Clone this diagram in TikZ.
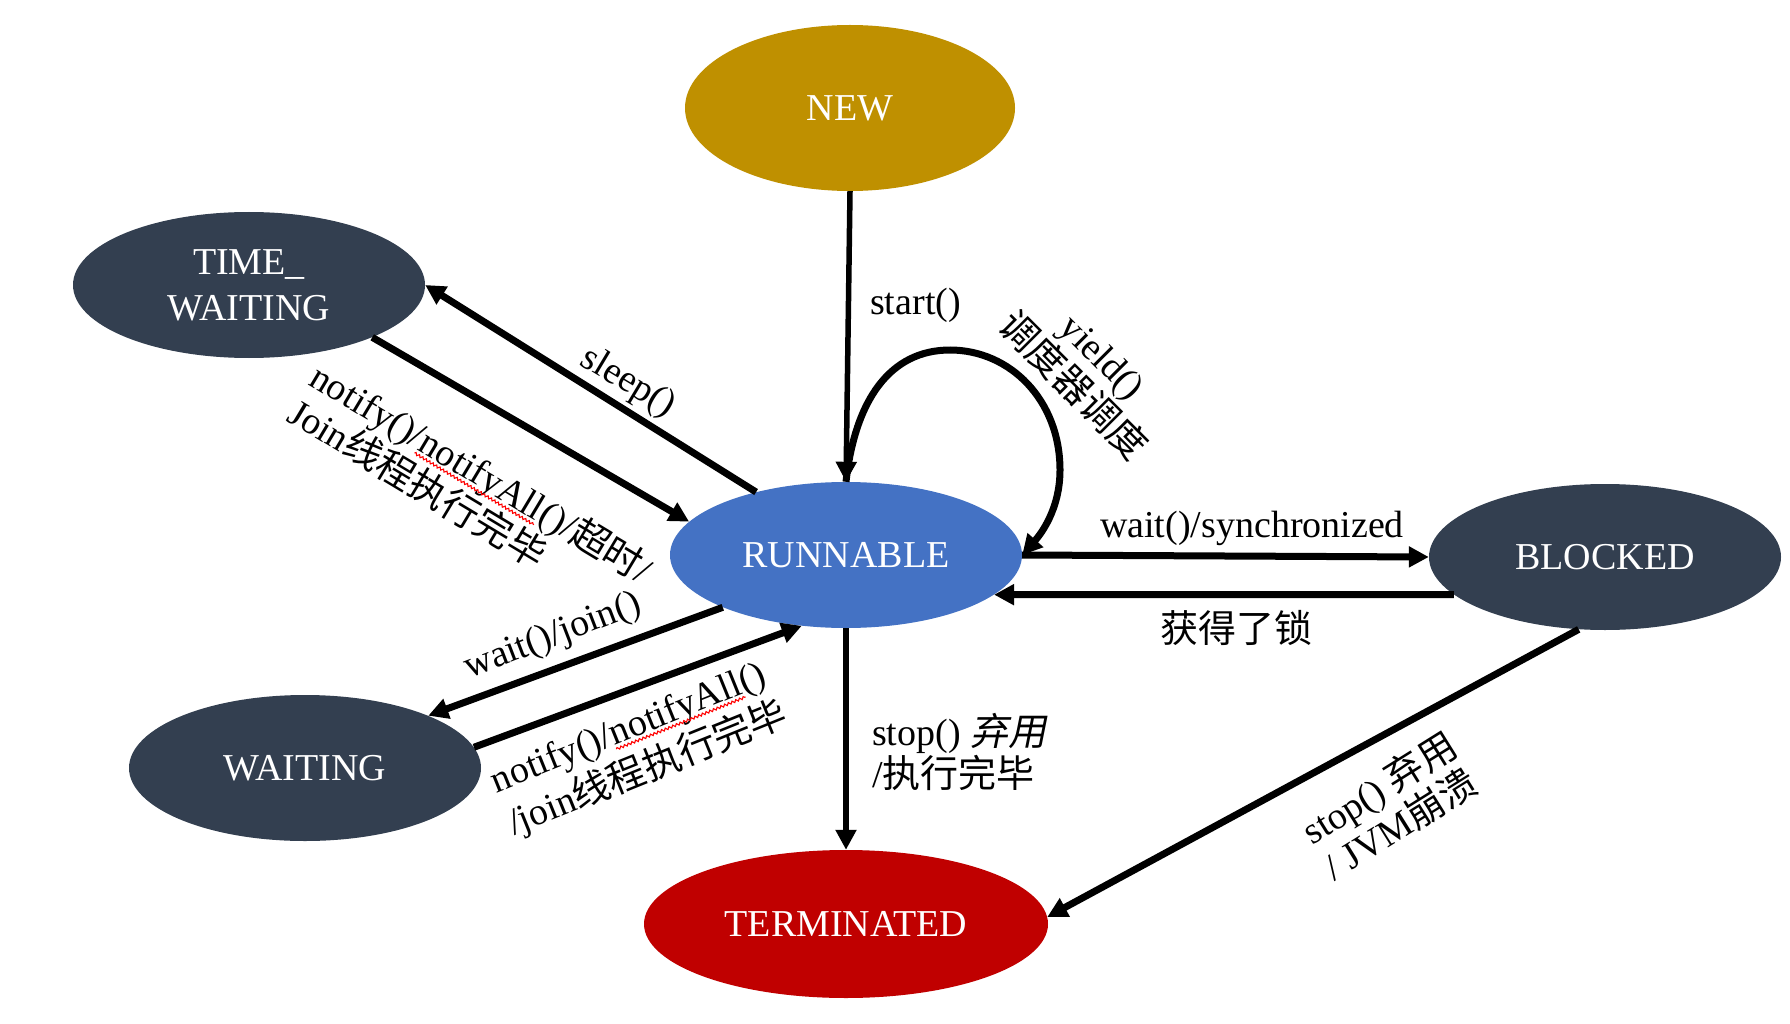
\documentclass[tikz,border=0pt]{standalone}
\usepackage{fontspec}
\setmainfont{Liberation Serif}
\newfontfamily\cjk{Noto Sans CJK SC}
\newfontfamily\cjkit[FakeSlant=0.2]{Noto Sans CJK SC}
\usetikzlibrary{shapes.geometric,arrows.meta,decorations.pathmorphing,calc}
\definecolor{newc}{HTML}{BF9000}
\definecolor{darkc}{HTML}{333F50}
\definecolor{runc}{HTML}{4472C4}
\definecolor{termc}{HTML}{C00000}
\newcommand\zh[1]{{\cjk #1}}
\newcommand\zhit[1]{{\cjkit #1}}
\newcommand\squig[1]{\tikz[baseline=(sq.base)]{\node[inner sep=0pt,outer sep=0pt](sq){#1};\draw[red,line width=1.1pt,decorate,decoration={snake,amplitude=1.2pt,segment length=4pt}]([yshift=-4pt]sq.base west)--([yshift=-4pt]sq.base east);}}
\begin{document}
\begin{tikzpicture}[x=1pt,y=-1pt,font=\fontsize{38}{42}\selectfont,
  state/.style={ellipse,minimum width=352pt,minimum height=146pt,inner sep=0pt,text=white,align=center},
  edge/.style={line width=7pt,-{Triangle[length=20pt,width=20pt]}},
  thinedge/.style={line width=5.5pt,-{Triangle[length=20pt,width=20pt]}},
  lbl/.style={inner sep=0pt,align=left}]
\fill[white] (0,0) rectangle (1790,1024);
\useasboundingbox (0,0) rectangle (1790,1024);
% states
\node[state,fill=newc,minimum width=330pt,minimum height=166pt] (new) at (850,108) {NEW};
\node[state,fill=darkc] (tw) at (249,285) {TIME\_\\[4pt]WAITING};
\node[state,fill=runc] (run) at (846,555) {RUNNABLE};
\node[state,fill=darkc] (blk) at (1605,557) {BLOCKED};
\node[state,fill=darkc] (wait) at (305,768) {WAITING};
\node[state,fill=termc,minimum width=404pt,minimum height=148pt] (term) at (846,924) {TERMINATED};
% start
\draw[thinedge] (new.south) -- (run.north);
\node[lbl,anchor=west] (lstart) at (870,305) {start()};
% sleep
\draw[edge] (run.145) -- (tw.0);
\node[lbl,rotate=-31] (lsleep) at (628,383) {sleep()};
% notify from time waiting
\draw[edge] (tw.-23) -- (run.168);
\node[lbl,rotate=-31] (ltw) at (471,490) {notify()/\squig{notifyAll}()/\zh{超时}/\\Join\zh{线程执行完毕}};
% wait / join
\draw[edge] (run.203) -- (wait.23);
\node[lbl,rotate=21] (lwj) at (553,637) {wait()/join()};
% notify from waiting
\draw[edge] (wait.7) -- (run.238);
\node[lbl,rotate=22] (lwn) at (640,750) {notify()/\squig{notifyAll}()\\[4pt]/join\zh{线程执行完毕}};
% yield loop
\coordinate (loopa) at (950,350);
\coordinate (loopb) at (1060,470);
\draw[edge] (run.north) .. controls (855,400) and (890,350) .. (loopa)
  .. controls (1010,350) and (1060,400) .. (loopb)
  .. controls (1060,510) and (1040,535) .. (run.east);
\node[lbl,rotate=-45,align=center] (lyield) at (1087,372) {yield()\\\zh{调度器调度}};
% blocked
\draw[edge] (run.east) -- (blk.west);
\node[lbl,anchor=base] (lws) at (1252,537) {wait()/synchronized};
\draw[edge] (blk.194) -- (run.-15);
\node[lbl] (llock) at (1236,628) {\zh{获得了锁}};
% terminate
\draw[thinedge] (run.south) -- (term.north);
\node[lbl,anchor=west] (lstop) at (872,752) {stop() \zhit{弃用}\\/\zh{执行完毕}};
\draw[edge] (blk.250) -- (term.2);
\node[lbl,rotate=32] (ljvm) at (1390,805) {stop() \zh{弃用}\\/ JVM\zh{崩溃}};
\end{tikzpicture}
\end{document}
